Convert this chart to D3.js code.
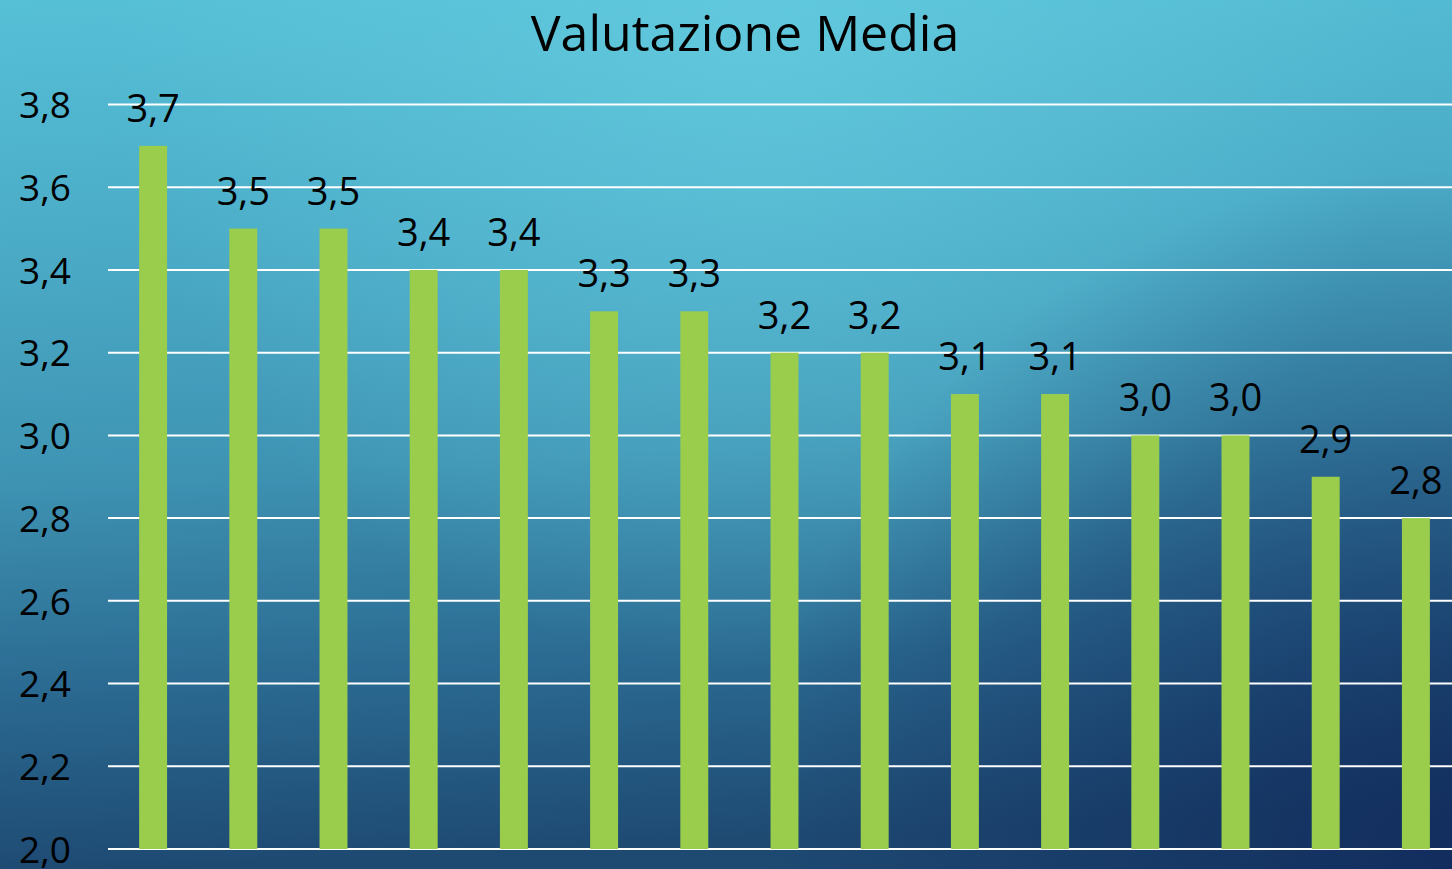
<!DOCTYPE html>
<html>
<head>
<meta charset="utf-8">
<script src="https://cdn.jsdelivr.net/npm/d3@7"></script>
<style>
  html, body { margin: 0; padding: 0; overflow: hidden; }
  svg { display: block; }
  text { font-family: "Open Sans", Lato, "DejaVu Sans", sans-serif; fill: #000; }
</style>
</head>
<body>
<svg id="chart" width="1452" height="869"></svg>
<script>
const title = "Valutazione Media";
const categories = ["C1","C2","C3","C4","C5","C6","C7","C8","C9","C10","C11","C12","C13","C14","C15"];
const values = [3.7, 3.5, 3.5, 3.4, 3.4, 3.3, 3.3, 3.2, 3.2, 3.1, 3.1, 3.0, 3.0, 2.9, 2.8];
const yTicks = [2.0, 2.2, 2.4, 2.6, 2.8, 3.0, 3.2, 3.4, 3.6, 3.8];

const W = 1452, H = 869;
const svg = d3.select("#chart");
const defs = svg.append("defs");

// background gradients
const lin = defs.append("linearGradient").attr("id", "bgLin")
  .attr("x1", 0).attr("y1", 0).attr("x2", 0.08).attr("y2", 1);
[[0, "#56c0d7"], [0.3, "#4aaac6"], [0.55, "#3e93b3"], [0.8, "#2a6890"], [1, "#1e4a72"]]
  .forEach(([o, c]) => lin.append("stop").attr("offset", o).attr("stop-color", c));

const rad = defs.append("radialGradient").attr("id", "bgTop")
  .attr("gradientUnits", "userSpaceOnUse")
  .attr("cx", 760).attr("cy", 20).attr("r", 650);
rad.append("stop").attr("offset", 0).attr("stop-color", "#66cde0").attr("stop-opacity", 0.7);
rad.append("stop").attr("offset", 1).attr("stop-color", "#66cde0").attr("stop-opacity", 0);

const dark = defs.append("radialGradient").attr("id", "bgDark")
  .attr("gradientUnits", "userSpaceOnUse")
  .attr("cx", 1452).attr("cy", 869).attr("r", 700);
dark.append("stop").attr("offset", 0).attr("stop-color", "#10285a").attr("stop-opacity", 0.85);
dark.append("stop").attr("offset", 1).attr("stop-color", "#10285a").attr("stop-opacity", 0);

svg.append("rect").attr("width", W).attr("height", H).attr("fill", "url(#bgLin)");
svg.append("rect").attr("width", W).attr("height", H).attr("fill", "url(#bgTop)");
svg.append("rect").attr("width", W).attr("height", H).attr("fill", "url(#bgDark)");

// scales
const y = d3.scaleLinear().domain([2.0, 3.8]).range([849, 104.5]);
const x = d3.scaleBand().domain(categories).range([108, 1461])
  .paddingInner(0.69).paddingOuter(0.345);

const fmt = v => d3.format(".1f")(v).replace(".", ",");

// gridlines
svg.append("g").selectAll("line").data(yTicks).join("line")
  .attr("x1", 108).attr("x2", W)
  .attr("y1", d => y(d)).attr("y2", d => y(d))
  .attr("stroke", "#ffffff").attr("stroke-width", 2);

// y axis labels
const yAxis = d3.axisLeft(y).tickValues(yTicks).tickFormat(fmt).tickSize(0).tickPadding(0);
const ga = svg.append("g").attr("transform", "translate(71,0)").call(yAxis);
ga.select(".domain").remove();
ga.selectAll("text")
  .attr("font-family", "'Open Sans', Lato, sans-serif")
  .attr("font-size", 37).attr("fill", "#000").attr("dy", "0.36em");

// bars
svg.append("g").selectAll("rect").data(values).join("rect")
  .attr("x", (d, i) => x(categories[i]))
  .attr("width", x.bandwidth())
  .attr("y", d => y(d))
  .attr("height", d => y(2.0) - y(d))
  .attr("fill", "#9acd4b");

// value labels
svg.append("g").selectAll("text").data(values).join("text")
  .attr("x", (d, i) => x(categories[i]) + x.bandwidth() / 2)
  .attr("y", d => y(d) - 24)
  .attr("text-anchor", "middle")
  .attr("font-size", 38)
  .text(d => fmt(d));

// title
svg.append("text")
  .attr("x", 745).attr("y", 51)
  .attr("text-anchor", "middle")
  .attr("font-size", 50)
  .text(title);
</script>
</body>
</html>
